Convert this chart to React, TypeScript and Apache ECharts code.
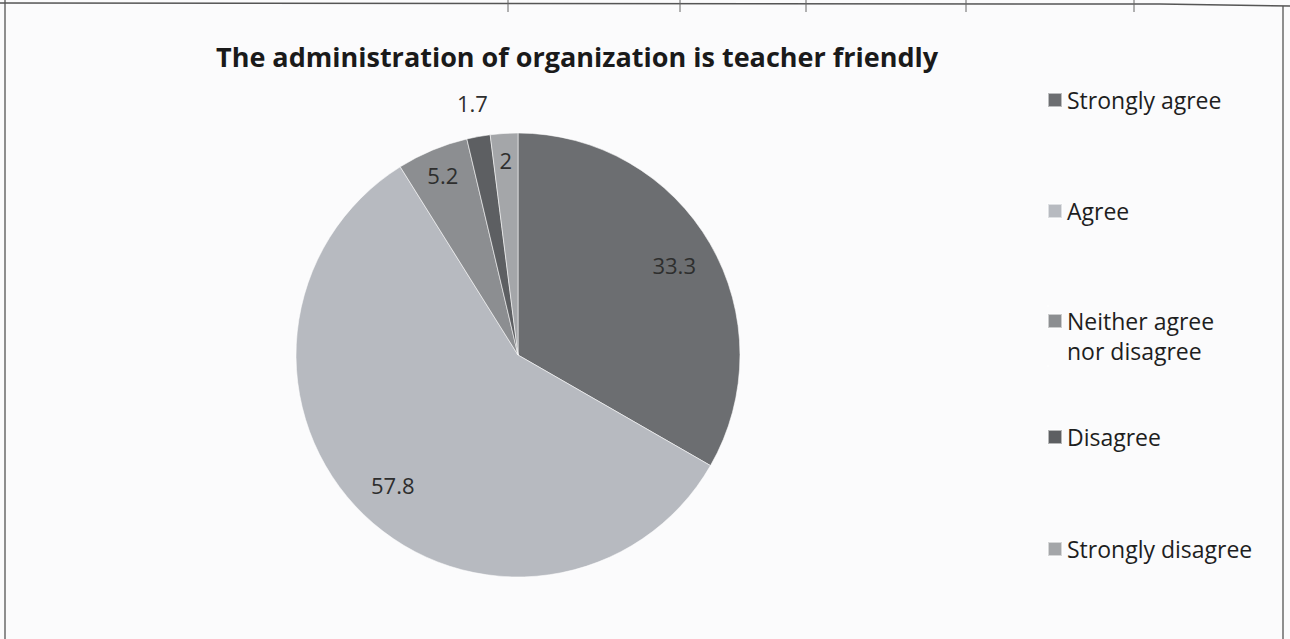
import React, { useEffect, useRef } from "react";
import * as echarts from "echarts";

const categories = [
  "Strongly agree",
  "Agree",
  "Neither agree\nnor disagree",
  "Disagree",
  "Strongly disagree",
];
const values = [33.3, 57.8, 5.2, 1.7, 2];
const colors = ["#6c6e71", "#b7bac0", "#8c8e91", "#5d5f62", "#a4a6a9"];
// which label ring each slice's value label sits on (Excel "best fit")
const labelRing = ["mid", "mid", "edge", "out", "edge"];
const legendTops = [86, 197, 305, 423, 535];

const CX = 518;
const CY = 355;
const R = 222;

export default function App() {
  const ref = useRef<HTMLDivElement>(null);
  useEffect(() => {
    if (!ref.current) return;
    const chart = echarts.init(ref.current, undefined, { renderer: "svg" });
    const font = "'Open Sans', Lato, sans-serif";
    const baseData = categories.map((name, i) => ({
      name,
      value: values[i],
      itemStyle: { color: colors[i] },
    }));
    const labelSeries = (ring: string, radius: [number, number]) => ({
      type: "pie",
      center: [CX, CY],
      radius,
      startAngle: 90,
      clockwise: true,
      silent: true,
      z: 5,
      itemStyle: { color: "transparent", borderWidth: 0 },
      emphasis: { disabled: true },
      labelLine: { show: false },
      data: categories.map((name, i) => ({
        name,
        value: values[i],
        label: {
          show: labelRing[i] === ring,
          position: "inside",
          formatter: "{c}",
          fontFamily: font,
          fontSize: 22,
          color: "#2e2e2e",
        },
      })),
    });
    const legends = categories.map((name, i) => {
      const two = name.includes("\n");
      return {
        orient: "vertical",
        left: 1047,
        top: legendTops[i],
        padding: 0,
        itemWidth: 14,
        itemHeight: two ? 60 : 14,
        selectedMode: false,
        textStyle: {
          fontFamily: font,
          fontSize: 23,
          lineHeight: two ? 30 : 28,
          color: "#1e1e1e",
        },
        data: [
          {
            name,
            icon: two
              ? "path://M0,8H14V22H0Z M0,0H0.01V0.01H0Z M0,60H0.01V60.01H0Z"
              : "rect",
            itemStyle: { color: colors[i] },
          },
        ],
      };
    });
    chart.setOption({
      animation: false,
      backgroundColor: "#fbfbfc",
      title: {
        text: "The administration of organization is teacher friendly",
        left: 216,
        top: 40,
        padding: 0,
        textStyle: {
          fontFamily: font,
          fontSize: 27,
          lineHeight: 32,
          fontWeight: "bold",
          color: "#1a1a1a",
        },
      },
      legend: legends,
      graphic: [
        { type: "line", shape: { x1: 5, y1: 0, x2: 5, y2: 639 }, style: { stroke: "#6a6a6a", lineWidth: 1.5 } },
        { type: "line", shape: { x1: 1283, y1: 6, x2: 1283, y2: 639 }, style: { stroke: "#6a6a6a", lineWidth: 1.5 } },
        { type: "polyline", shape: { points: [[0, 3], [1160, 4], [1290, 6]] }, style: { stroke: "#555", lineWidth: 1.5, fill: "none" } },
        ...[508, 680, 806, 966, 1134].map((x) => ({
          type: "line",
          shape: { x1: x, y1: 0, x2: x, y2: 12 },
          style: { stroke: "#666", lineWidth: 1 },
        })),
      ],
      series: [
        {
          type: "pie",
          center: [CX, CY],
          radius: [0, R],
          startAngle: 90,
          clockwise: true,
          label: { show: false },
          labelLine: { show: false },
          emphasis: { disabled: true },
          itemStyle: { borderColor: "rgba(255,255,255,0.55)", borderWidth: 1 },
          data: baseData,
        },
        labelSeries("mid", [133, R]),
        labelSeries("edge", [162, R]),
        labelSeries("out", [R, 284]),
      ],
    });
    return () => chart.dispose();
  }, []);
  return (
    <div
      ref={ref}
      style={{ position: "fixed", left: 0, top: 0, width: 1290, height: 639 }}
    />
  );
}
